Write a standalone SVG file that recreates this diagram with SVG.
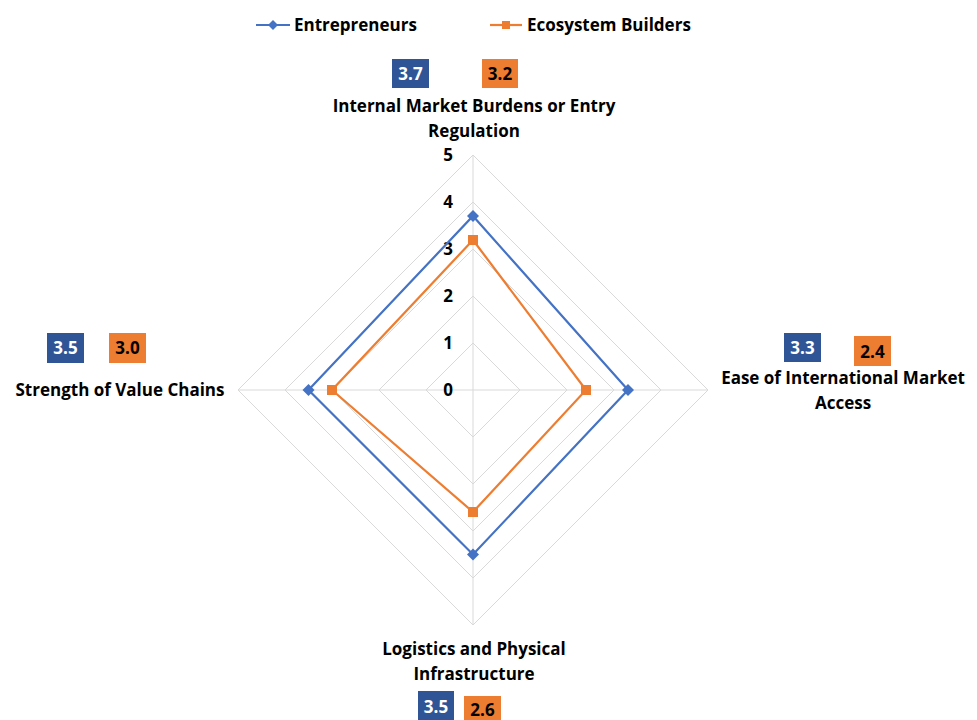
<svg xmlns="http://www.w3.org/2000/svg" width="977" height="720" viewBox="0 0 977 720">
<style>
text{font-family:"Open Sans","Liberation Sans",sans-serif;font-weight:bold;fill:#000}
.lbl{font-size:17px;text-anchor:middle}
.ax{font-size:17px;text-anchor:end}
.grid{fill:none;stroke:#D9D9D9;stroke-width:1}
.ent{fill:none;stroke:#4472C4;stroke-width:2.2;stroke-linejoin:miter}
.eco{fill:none;stroke:#ED7D31;stroke-width:2.2;stroke-linejoin:miter}
.bb{fill:#2F5597}
.ob{fill:#ED7D31}
.vw{font-size:17px;text-anchor:middle;fill:#fff}
.vk{font-size:17px;text-anchor:middle;fill:#000}
</style>
<defs>
<path id="dia" d="M0,-6 L6,0 L0,6 L-6,0 Z" fill="#4472C4"/>
<rect id="sq" x="-5" y="-5" width="10" height="10" fill="#ED7D31"/>
</defs>
<rect width="977" height="720" fill="#fff"/>
<g id="grid">
<path class="grid" d="M473,343 L520,390 L473,437 L426,390 Z"/>
<path class="grid" d="M473,296 L567,390 L473,484 L379,390 Z"/>
<path class="grid" d="M473,249 L614,390 L473,531 L332,390 Z"/>
<path class="grid" d="M473,202 L661,390 L473,578 L285,390 Z"/>
<path class="grid" d="M473,155 L708,390 L473,625 L238,390 Z"/>
<path class="grid" d="M473,155 V625 M238,390 H708"/>
</g>
<g id="axis">
<text class="ax" x="453" y="161">5</text>
<text class="ax" x="453" y="208">4</text>
<text class="ax" x="453" y="255">3</text>
<text class="ax" x="453" y="302">2</text>
<text class="ax" x="453" y="349">1</text>
<text class="ax" x="453" y="396">0</text>
</g>
<g id="connectors">
<path class="ent" d="M473,216 L628,390 L473,554.5 L308.5,390 Z"/>
<path class="eco" d="M473,240 L586,390 L473,512 L332,390 Z"/>
</g>
<g id="markers">
<use href="#dia" x="473" y="216"/><use href="#dia" x="628" y="390"/><use href="#dia" x="473" y="554.5"/><use href="#dia" x="308.5" y="390"/>
<use href="#sq" x="473" y="240"/><use href="#sq" x="586" y="390"/><use href="#sq" x="473" y="512"/><use href="#sq" x="332" y="390"/>
</g>
<g id="legend">
<line x1="256" y1="25" x2="290" y2="25" stroke="#4472C4" stroke-width="2.2"/>
<path d="M273,20 L278,25 L273,30 L268,25 Z" fill="#4472C4"/>
<text x="294" y="31" font-size="17">Entrepreneurs</text>
<line x1="490" y1="25" x2="522" y2="25" stroke="#ED7D31" stroke-width="2.2"/>
<rect x="502" y="21" width="8" height="8" fill="#ED7D31"/>
<text x="527" y="31" font-size="17">Ecosystem Builders</text>
</g>
<g id="node-top">
<rect class="bb" x="392" y="59" width="37" height="29"/><text class="vw" x="410.5" y="80">3.7</text>
<rect class="ob" x="482" y="59" width="36" height="29"/><text class="vk" x="500" y="80">3.2</text>
<text class="lbl" x="474" y="112">Internal Market Burdens or Entry</text>
<text class="lbl" x="474" y="137">Regulation</text>
</g>
<g id="node-right">
<rect class="bb" x="784" y="333" width="37" height="29"/><text class="vw" x="802.5" y="354">3.3</text>
<rect class="ob" x="854" y="336" width="37" height="30"/><text class="vk" x="872.5" y="358">2.4</text>
<text class="lbl" x="843" y="384">Ease of International Market</text>
<text class="lbl" x="843" y="409">Access</text>
</g>
<g id="node-bottom">
<text class="lbl" x="474" y="655">Logistics and Physical</text>
<text class="lbl" x="474" y="680">Infrastructure</text>
<rect class="bb" x="418" y="691" width="36" height="29"/><text class="vw" x="436" y="713">3.5</text>
<rect class="ob" x="464" y="696" width="37" height="24"/><text class="vk" x="482.5" y="716">2.6</text>
</g>
<g id="node-left">
<rect class="bb" x="47" y="333" width="37" height="30"/><text class="vw" x="65.5" y="354">3.5</text>
<rect class="ob" x="109" y="333" width="37" height="30"/><text class="vk" x="127.5" y="354">3.0</text>
<text class="lbl" x="120" y="396">Strength of Value Chains</text>
</g>
</svg>
